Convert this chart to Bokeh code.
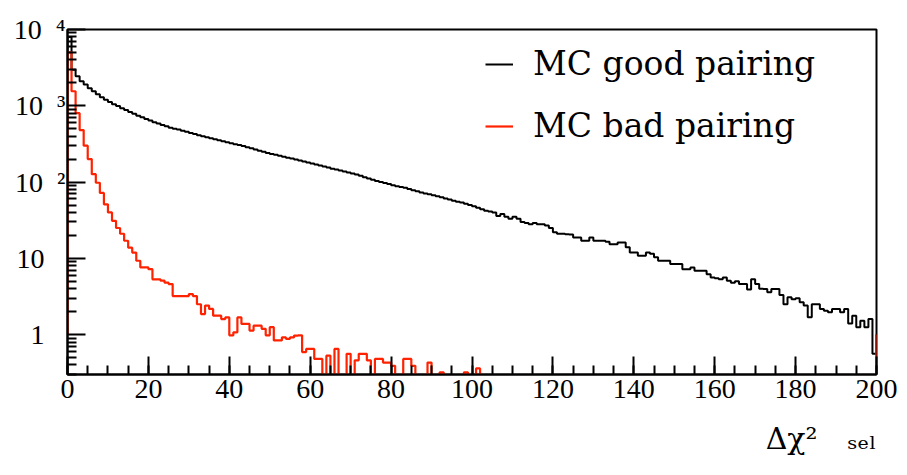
from bokeh.plotting import figure
from bokeh.models import (Range1d, FixedTicker, Legend, LegendItem, Title,
                          CustomJSTickFormatter)
from bokeh.embed import file_html
from bokeh.resources import INLINE

# ---------------- data ----------------
x_min, x_max = 0, 200
bin_width = 1
y_min, y_max = 0.3, 10000

# "MC good pairing": 200 bins of width 1 on [0, 200]
good_pairing = [
    8000, 2970, 2440, 2090, 1900, 1700, 1550, 1420, 1290, 1200,
    1120, 1050, 990, 930, 880, 830, 785, 740, 705, 670,
    640, 610, 585, 560, 540, 515, 500, 488, 470, 455,
    440, 426, 412, 400, 388, 376, 364, 352, 342, 332,
    322, 314, 305, 296, 286, 277, 268, 258, 249, 240,
    234, 228, 221, 215, 209, 203, 198, 192, 186, 181,
    175, 170, 165, 160, 155, 150, 146, 142, 138, 133,
    129, 126, 121, 116, 111, 107, 103, 100, 97, 94,
    91, 88, 86, 84, 81, 78, 76, 73, 71, 69,
    67, 65, 63, 61, 59, 57, 55, 54, 52, 50,
    48, 46, 44, 42, 41, 40, 36, 38, 35, 33,
    35, 33, 30, 29, 28, 29, 28, 28, 27, 25,
    22, 21, 21, 20.7, 20.5, 18.7, 18.7, 17, 17, 18.7,
    17, 17, 17, 16.5, 15.3, 15.3, 16.1, 16.1, 14, 11.9,
    11.9, 10.8, 10.8, 11.9, 11.5, 10.3, 9.3, 9.3, 9.3, 8.4,
    8.4, 8.4, 7.2, 7.2, 7.6, 6.9, 6.9, 6.9, 6.2, 5.6,
    5.5, 5.3, 5.6, 5.1, 4.8, 5.0, 4.6, 4.6, 3.9, 5.3,
    4.6, 4.0, 3.95, 3.6, 3.95, 3.95, 3.3, 2.5, 3.1, 2.9,
    3.0, 2.65, 2.4, 1.69, 2.5, 2.5, 2.17, 2.06, 1.96, 2.17,
    2.17, 1.96, 2.17, 1.4, 1.77, 1.25, 1.52, 1.25, 1.6, 0.56,
]

# "MC bad pairing": bins 0..101 (all later bins are empty)
bad_pairing = [
    5000, 1550, 800, 480, 300, 200, 127, 98, 72, 51,
    40, 31, 25, 21, 17, 13.8, 11.9, 9.3, 7.6, 7.6,
    7.2, 5.3, 5.3, 5.1, 4.8, 4.6, 3.2, 3.2, 3.2, 3.2,
    3.4, 3.2, 2.5, 1.86, 2.4, 2.17, 1.77, 1.77, 1.6, 1.68,
    0.98, 1.07, 1.68, 1.38, 1.38, 1.13, 1.31, 1.31, 1.19, 0.98,
    1.25, 0.84, 0.84, 0.92, 0.88, 0.92, 0.97, 0.98, 0.59, 0.65,
    0.65, 0.48, 0.48, 0, 0.53, 0, 0.65, 0, 0, 0.56,
    0, 0.46, 0.56, 0.56, 0.46, 0, 0.48, 0.48, 0.43, 0.43,
    0.39, 0, 0, 0.48, 0.48, 0.39, 0, 0, 0, 0.43,
    0, 0, 0.32, 0, 0, 0, 0, 0, 0.32, 0,
    0, 0.36,
]

series_names = ["MC good pairing", "MC bad pairing"]
series_colors = ["#000000", "#ff2200"]
x_title = "\u0394\u03c7\u00b2\u2003\u209b\u2091\u2097"

x_major_ticks = [0, 20, 40, 60, 80, 100, 120, 140, 160, 180, 200]
x_minor_ticks = [v for v in range(0, 201, 5)]
x_tick_labels = ["0", "20", "40", "60", "80", "100", "120", "140", "160", "180", "200"]

y_major_ticks = [1, 10, 100, 1000, 10000]
y_tick_labels = ["1\u2002\u2005", "10\u2002\u2005", "10\u2002\u00b2", "10\u2002\u00b3", "10\u2002\u2074"]
y_minor_ticks = ([m * 0.1 for m in range(3, 10)] + [m * 1.0 for m in range(2, 10)] +
                 [m * 10.0 for m in range(2, 10)] + [m * 100.0 for m in range(2, 10)] +
                 [m * 1000.0 for m in range(2, 10)])


def step_path(values, nbins, width, floor, close_to=1.0):
    xs, ys = [x_min], [close_to]
    for i in range(nbins):
        v = values[i] if i < len(values) else 0
        v = v if v > 0 else floor
        xs += [x_min + i * width, x_min + (i + 1) * width]
        ys += [v, v]
    xs.append(x_min + nbins * width)
    ys.append(close_to)
    return xs, ys


nbins = int((x_max - x_min) / bin_width)
floor = y_min * 0.97
gx, gy = step_path(good_pairing, nbins, bin_width, floor)
bx, by = step_path(bad_pairing, nbins, bin_width, floor)

# ---------------- figure ----------------
p = figure(width=907, height=475, output_backend="svg", toolbar_location=None,
           x_range=Range1d(x_min, x_max), y_range=Range1d(y_min, y_max),
           y_axis_type="log",
           min_border_left=67, min_border_right=31, min_border_top=29,
           min_border_bottom=101)
p.background_fill_color = "white"
p.border_fill_color = "white"
p.outline_line_color = "black"
p.outline_line_width = 2
p.xgrid.visible = False
p.ygrid.visible = False

r_good = p.line(gx, gy, line_color=series_colors[0], line_width=2)
r_bad = p.line(bx, by, line_color=series_colors[1], line_width=2.2)

FONT = "Liberation Serif"
FONT2 = "DejaVu Serif"

xa = p.xaxis[0]
xa.ticker = FixedTicker(ticks=x_major_ticks, minor_ticks=x_minor_ticks)
xa.formatter = CustomJSTickFormatter(
    args=dict(labels={str(t): l for t, l in zip(x_major_ticks, x_tick_labels)}),
    code="return labels[String(tick)] ?? '';")
ya = p.yaxis[0]
ya.ticker = FixedTicker(ticks=y_major_ticks, minor_ticks=y_minor_ticks)
ya.formatter = CustomJSTickFormatter(
    args=dict(labels={str(t): l for t, l in zip(y_major_ticks, y_tick_labels)}),
    code="return labels[String(Math.round(tick))] ?? '';")

for ax in (xa, ya):
    ax.axis_line_width = 2
    ax.axis_line_color = "black"
    ax.major_tick_in = 18
    ax.major_tick_out = 0
    ax.minor_tick_in = 9
    ax.minor_tick_out = 0
    ax.major_tick_line_width = 2
    ax.minor_tick_line_width = 2
    ax.major_tick_line_color = "black"
    ax.minor_tick_line_color = "black"
    ax.major_label_text_font = FONT
    ax.major_label_text_font_size = "28px"
    ax.major_label_text_color = "black"
xa.major_label_standoff = 5
ya.major_label_standoff = 2

# axis title, right-aligned under the x axis
p.add_layout(Title(text=x_title, align="right", text_font=FONT2,
                   text_font_size="30px", text_font_style="normal",
                   text_color="black", standoff=36, offset=0), "below")

legend = Legend(items=[LegendItem(label=series_names[0], renderers=[r_good]),
                       LegendItem(label=series_names[1], renderers=[r_bad])],
                location=(418, 229), padding=0, margin=0, spacing=23,
                glyph_width=28, glyph_height=30, label_height=30,
                label_standoff=20, label_text_font=FONT2,
                label_text_font_style="normal",
                label_text_font_size="33px", label_text_color="black",
                background_fill_alpha=0, border_line_alpha=0)
p.add_layout(legend, "center")

open("out.html", "w").write(file_html(p, INLINE))
